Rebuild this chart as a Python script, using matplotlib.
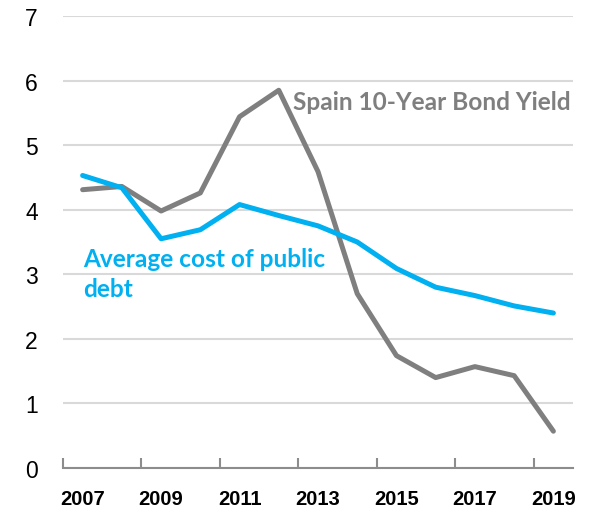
import matplotlib
matplotlib.use("Agg")
import matplotlib.pyplot as plt
from matplotlib.ticker import FixedLocator

years = list(range(2007, 2020))
bond_yield = [4.31, 4.36, 3.98, 4.26, 5.44, 5.85, 4.59, 2.70, 1.74, 1.40, 1.57, 1.43, 0.57]
avg_cost = [4.53, 4.34, 3.55, 3.69, 4.08, 3.91, 3.75, 3.50, 3.09, 2.80, 2.67, 2.51, 2.40]
label_years = [2007, 2009, 2011, 2013, 2015, 2017, 2019]

GRAY = "#7f7f7f"
CYAN = "#00b0f0"

fig = plt.figure(figsize=(5.96, 5.10), dpi=100)
ax = fig.add_axes([63/596, 41/510, 510/596, 452/510])

ax.plot(years, bond_yield, color=GRAY, lw=3.6, solid_capstyle="round", zorder=3)
ax.plot(years, avg_cost, color=CYAN, lw=3.6, solid_capstyle="round", zorder=3)

ax.set_xlim(2006.5, 2019.5)
ax.set_ylim(0, 7)
ax.set_yticks(range(0, 8))
ax.yaxis.grid(True, color="#d9d9d9", lw=1.5)
ax.set_axisbelow(True)

# labels sit on every other year, tick marks fall between category pairs
ax.set_xticks(label_years)
ax.set_xticklabels([str(y) for y in label_years], fontweight="bold",
                   fontsize=14.5, family="Liberation Sans")
ax.tick_params(axis="x", which="major", length=0, pad=15)
ax.xaxis.set_minor_locator(FixedLocator([2006.5 + 2 * i for i in range(7)]))
ax.tick_params(axis="x", which="minor", direction="in", length=7, width=1.5, color="#8c8c8c")

ax.tick_params(axis="y", length=0, pad=18, labelsize=16.5)
for lab in ax.get_yticklabels():
    lab.set_family("Liberation Sans")

for side in ["top", "right", "left"]:
    ax.spines[side].set_visible(False)
ax.spines["bottom"].set_color("#8c8c8c")
ax.spines["bottom"].set_linewidth(1.5)

ax.text(2012.36, 5.68, "Spain 10-Year Bond Yield", color=GRAY, fontsize=17.6,
        fontweight="bold", family="Lato", va="center", ha="left")
ax.text(2007.01, 3.01, "Average cost of public\ndebt", color=CYAN, fontsize=17.6,
        fontweight="bold", family="Lato", va="center", ha="left", linespacing=1.35)

fig.savefig("out.png", dpi=100)
